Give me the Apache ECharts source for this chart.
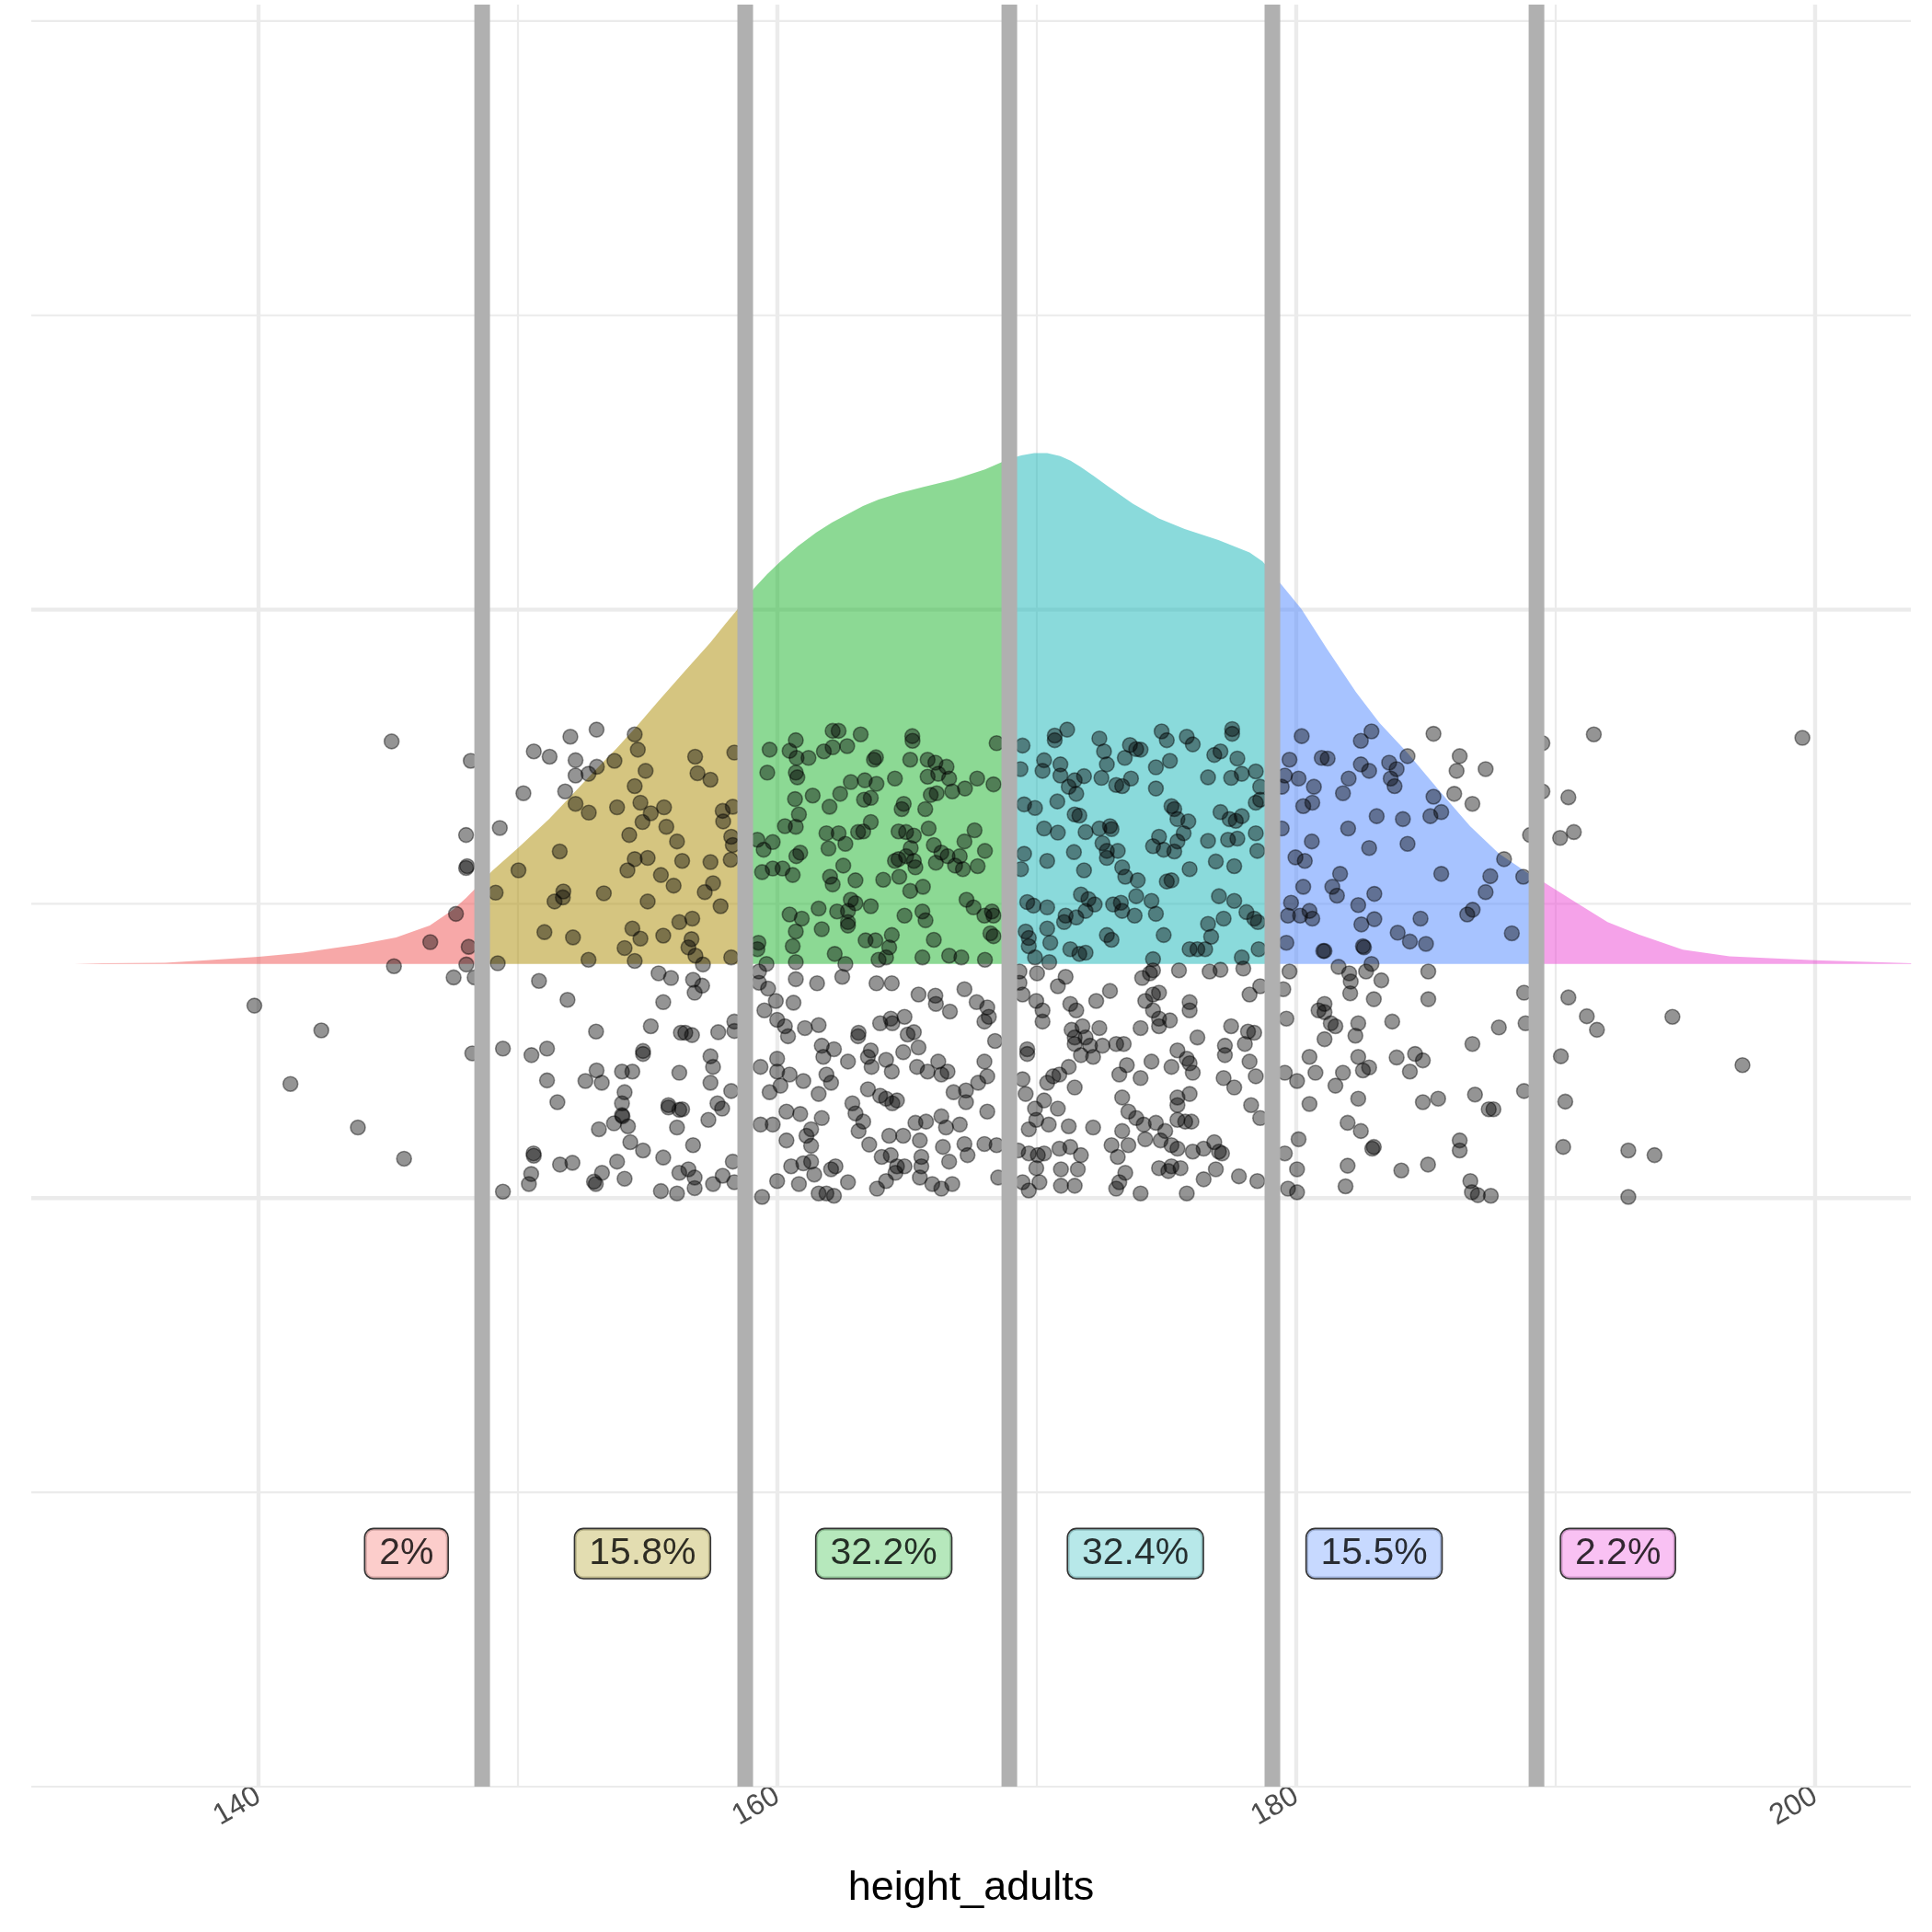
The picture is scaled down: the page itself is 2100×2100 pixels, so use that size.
<!DOCTYPE html>
<html><head><meta charset="utf-8">
<script src="https://cdn.jsdelivr.net/npm/echarts@6/dist/echarts.min.js"></script>
<style>html,body{margin:0;padding:0;background:#fff}#c{width:2100px;height:2100px}</style>
</head><body><div id="c"></div>
<script>
// ---------- data ----------
const xTickValues = [140, 160, 180, 200];
const majorGridX = [140, 160, 180, 200];
const minorGridX = [150, 170, 190];
const majorGridY = [0, 1];
const minorGridY = [-1, -0.5, 0.5, 1.5, 2];
const cutPoints = [148.62, 158.76, 168.94, 179.08, 189.26];
const densityBaseline = 0.398;
const densX = [132.9,134.0,136.4,138.0,140.0,141.7,142.9,143.9,145.3,146.6,147.5,148.0,148.62,149.0,150.0,151.2,152.1,153.0,153.8,154.6,155.4,156.4,157.4,158.0,158.76,159.1,159.6,160.1,160.8,161.5,162.1,162.7,163.3,163.9,164.7,165.6,166.8,168.0,168.94,169.4,169.9,170.4,170.9,171.3,171.7,172.2,172.7,173.7,174.7,175.7,177.0,178.2,178.7,179.08,179.4,180.2,181.2,182.3,183.2,184.3,185.5,186.7,187.8,188.9,189.26,189.6,190.8,192.0,193.2,194.9,196.7,200.0,203.7];
const densH = [0,0.001,0.002,0.006,0.012,0.019,0.027,0.033,0.045,0.065,0.092,0.112,0.140,0.158,0.197,0.246,0.288,0.330,0.366,0.405,0.446,0.496,0.545,0.578,0.618,0.638,0.662,0.683,0.710,0.733,0.750,0.764,0.778,0.789,0.800,0.810,0.823,0.840,0.858,0.864,0.868,0.868,0.863,0.855,0.844,0.829,0.813,0.782,0.757,0.739,0.720,0.699,0.684,0.665,0.646,0.603,0.534,0.462,0.410,0.358,0.295,0.234,0.188,0.155,0.146,0.137,0.104,0.071,0.050,0.024,0.013,0.006,0.001];
const regionColors = ['rgba(239,81,81,0.5)','rgba(171,139,1,0.5)','rgba(25,179,41,0.5)','rgba(21,181,183,0.5)','rgba(79,135,255,0.5)','rgba(235,69,211,0.5)'];
const labelFills = ['#FBC0BE','#DCD49E','#A4E2AB','#A5E2E3','#B9CFFF','#F8B2F0'];
const pctLabels = ['2%','15.8%','32.2%','32.4%','15.5%','2.2%'];
const labelX = [145.7,154.8,164.1,173.8,183.0,192.4];
const labelY = -0.604;
const points = [
[139.84,.327],[142.42,.285],[141.23,.194],
[145.13,.776],[148.18,.743],[152.02,.784],[153.03,.796],[150.61,.759],[151.22,.750],[152.22,.744],[152.22,.718],[150.21,.688],[151.82,.691],[152.72,.721],[153.04,.733],[153.72,.743],[154.50,.788],[154.62,.762],[154.92,.726],[154.50,.700],[152.22,.670],[152.73,.655],[153.82,.664],[154.72,.672],[155.12,.654],[155.63,.664],[154.80,.639],[155.72,.631],[154.29,.617],[156.13,.606],[149.30,.629],[148.00,.617],[148.04,.564],[148.00,.561],[151.61,.589],[150.02,.557],[154.50,.576],[155.00,.578],[154.22,.557],[155.51,.549],[156.00,.531],[149.14,.519],[151.75,.521],[151.41,.504],[151.73,.511],[153.31,.518],[155.00,.504],[147.61,.483],[146.62,.435],[148.10,.427],[151.02,.452],[152.12,.443],[154.41,.458],[154.72,.441],[155.60,.446],[156.22,.469],[154.11,.425],[154.50,.403],[152.72,.405],[149.22,.399],[145.22,.394],[148.01,.397],[147.52,.375],[148.33,.375],[150.81,.369],[155.42,.382],[155.90,.374],[151.91,.337],[155.60,.333],[153.01,.283],[155.12,.292],[156.28,.281],[148.24,.246],[149.42,.254],[150.52,.243],[151.12,.254],[154.82,.250],[154.82,.245],[151.12,.200],[152.60,.199],[153.03,.217],[153.23,.196],[154.01,.215],[154.41,.215],[156.22,.213],[151.52,.163],[154.11,.180],[154.01,.161],[154.01,.141],[154.03,.139],[153.70,.127],[154.24,.122],[153.12,.117],[155.80,.158],[155.80,.154],[156.22,.150],[156.13,.120],[143.83,.120],[145.61,.067],[150.60,.076],[150.61,.072],[150.51,.041],[150.42,.024],[149.42,.011],[151.62,.057],[152.10,.060],[153.82,.062],[153.24,.043],[152.93,.028],[153.00,.024],[154.11,.033],[154.33,.095],[154.82,.081],[155.60,.069],[155.51,.012],[156.13,.008],[156.22,.043],
[156.83,.750],[156.92,.722],[157.42,.711],[158.34,.757],[157.89,.658],[158.28,.665],[157.91,.640],[156.33,.573],[157.42,.571],[158.22,.614],[158.28,.600],[158.20,.575],[157.52,.535],[157.20,.520],[157.81,.496],[156.72,.475],[156.69,.440],[156.57,.426],[156.84,.412],[157.13,.397],[158.22,.409],[156.75,.371],[157.10,.361],[156.81,.349],[156.45,.281],[156.71,.277],[157.72,.282],[158.34,.300],[158.34,.284],[157.42,.241],[157.52,.223],[157.42,.196],[158.22,.182],[156.33,.151],[157.69,.161],[157.87,.152],[157.34,.133],[156.75,.090],[156.57,.049],[156.81,.035],[156.81,.017],[157.52,.024],[157.89,.038],[158.28,.062],[158.34,.027],
[159.70,.762],[160.71,.778],[160.47,.760],[160.74,.748],[161.20,.748],[161.79,.759],[162.13,.794],[162.36,.794],[162.13,.766],[162.69,.768],[163.21,.788],[165.20,.785],[165.21,.777],[163.72,.745],[163.80,.749],[165.12,.745],[165.79,.745],[166.09,.740],[166.52,.733],[168.45,.773],
[159.61,.723],[160.71,.723],[160.77,.715],[162.83,.707],[163.37,.710],[163.82,.704],[164.53,.713],[165.79,.716],[166.20,.721],[166.62,.713],[167.70,.713],[168.33,.703],[162.42,.687],[161.36,.684],[160.68,.678],[163.34,.677],[163.60,.680],[165.91,.685],[166.14,.688],[166.74,.691],[167.23,.696],
[162.01,.665],[160.83,.652],[164.87,.670],[164.79,.661],[165.70,.661],[160.29,.632],[160.71,.631],[163.60,.639],[161.89,.620],[162.36,.620],[163.11,.622],[163.31,.623],[164.67,.623],[164.96,.622],[165.26,.616],[165.83,.628],[167.60,.625],[159.23,.609],[159.82,.605],[159.47,.592],[162.62,.602],[161.97,.594],[166.03,.600],[167.21,.606],[165.14,.595],
[160.88,.587],[160.73,.581],[164.53,.573],[164.67,.576],[164.96,.581],[165.26,.573],[165.32,.562],[166.11,.570],[166.32,.587],[166.56,.581],[167.03,.581],[166.85,.565],[167.15,.559],[167.72,.564],[168.00,.590],[159.41,.554],[159.82,.560],[160.20,.560],[160.59,.549],[162.54,.565],[162.03,.546],[162.13,.533],[163.01,.540],[164.08,.541],[164.70,.546],[165.12,.522],[165.61,.529],
[161.59,.492],[162.30,.487],[162.83,.507],[163.01,.501],[162.72,.488],[163.60,.496],[160.47,.482],[160.94,.475],[162.72,.469],[162.72,.463],[164.90,.480],[165.59,.487],[165.71,.472],[167.29,.507],[167.56,.494],[167.98,.480],[168.27,.487],[168.33,.480],[160.71,.453],[161.71,.457],[168.21,.450],[168.33,.445],[160.59,.428],[163.40,.438],[163.78,.438],[164.41,.447],[164.31,.426],[166.03,.439],[159.27,.434],[159.23,.423],[162.21,.415],[162.62,.398],[163.90,.405],[164.19,.409],[165.59,.409],[166.62,.412],[167.09,.409],[168.00,.405],[159.58,.398],[160.71,.401],
[159.29,.385],[159.29,.366],[159.64,.356],[160.71,.372],[161.53,.365],[162.50,.376],[163.82,.365],[164.41,.365],[165.44,.346],[166.09,.344],[166.11,.330],[166.65,.317],[167.21,.355],[167.68,.333],[168.09,.324],[168.15,.308],[167.98,.300],[159.94,.335],[160.62,.332],[159.50,.319],[159.99,.303],[160.29,.292],[160.41,.275],[161.06,.289],[161.59,.294],[163.13,.281],[163.11,.275],[163.96,.297],[164.37,.305],[164.43,.297],[164.90,.308],[165.02,.278],[165.26,.282],[168.39,.267],[161.71,.259],[162.18,.253],[161.77,.240],[162.72,.232],[163.60,.251],[163.49,.240],[163.63,.223],[164.19,.235],[164.41,.215],[164.85,.248],[165.44,.256],[165.38,.223],[165.79,.215],[166.20,.232],[166.32,.210],[166.56,.215],[167.98,.232],[159.35,.223],[159.99,.237],[159.99,.215],[160.47,.210],[161.00,.199],[161.89,.210],[162.07,.196],[159.70,.180],[160.12,.191],[161.59,.177],[163.49,.185],[163.96,.174],[164.19,.169],[164.61,.166],[164.43,.161],[166.79,.180],[167.27,.183],[167.27,.163],[167.74,.196],[168.09,.207],[168.09,.147],[162.89,.161],[163.01,.144],[163.31,.130],[163.13,.114],[163.54,.091],[160.35,.147],[160.88,.143],[161.71,.136],[159.35,.125],[159.82,.125],[161.30,.117],[161.12,.106],[161.30,.089],[160.35,.098],[165.32,.128],[165.73,.130],[166.32,.139],[166.50,.120],[167.03,.125],[164.31,.106],[164.85,.106],[165.49,.098],[166.38,.087],[167.21,.092],[167.33,.073],[167.98,.092],[168.45,.090],[164.02,.070],[164.37,.073],[164.61,.054],[164.90,.054],[165.55,.070],[165.55,.054],[166.62,.062],[160.53,.054],[161.00,.059],[161.30,.062],[161.42,.040],[162.24,.054],[162.07,.049],[162.72,.027],[159.99,.029],[160.83,.024],[161.59,.008],[161.89,.008],[162.18,.004],[163.84,.016],[164.19,.029],[164.55,.043],[165.49,.035],[165.97,.024],[166.32,.016],[166.74,.024],[159.41,.002],[168.51,.035],
[170.69,.786],[171.17,.796],[170.69,.778],[169.45,.769],[172.41,.781],[172.59,.759],[173.59,.770],[173.83,.763],[174.00,.762],[173.39,.748],[174.81,.793],[175.01,.778],[175.78,.784],[176.01,.771],[177.53,.797],[177.53,.789],[176.84,.753],[177.08,.759],[177.73,.747],[170.28,.744],[169.37,.729],[170.91,.737],[170.22,.726],[172.70,.737],[174.59,.732],[175.13,.743],[170.91,.718],[171.46,.710],[171.82,.717],[171.23,.699],[171.52,.687],[172.49,.714],[173.06,.702],[173.29,.700],[173.63,.713],[174.59,.696],[176.60,.715],[177.49,.714],[177.90,.721],[178.44,.725],[178.61,.699],
[169.51,.669],[169.93,.663],[170.79,.674],[171.46,.652],[171.64,.650],[175.19,.666],[175.30,.661],[175.42,.644],[175.84,.640],[177.08,.656],[177.43,.644],[177.67,.641],[177.90,.649],[178.44,.672],[178.61,.677],[170.28,.628],[170.81,.621],[171.88,.622],[172.41,.628],[172.82,.632],[172.88,.627],[174.71,.614],[175.66,.620],[176.60,.607],[177.37,.609],[177.73,.611],[178.44,.620],[169.51,.585],[169.39,.559],[170.40,.573],[171.43,.588],[172.53,.603],[172.70,.590],[173.12,.590],[172.70,.578],[174.48,.598],[174.89,.592],[175.30,.589],[175.42,.606],[171.82,.557],[173.29,.562],[173.41,.546],[173.89,.540],[175.01,.538],[175.19,.540],[175.89,.559],[176.90,.572],[177.61,.564],[178.50,.590],
[169.63,.503],[169.87,.497],[170.40,.494],[171.70,.516],[171.99,.508],[172.23,.499],[171.88,.488],[172.94,.499],[173.24,.502],[173.29,.488],[173.77,.480],[173.83,.513],[174.42,.505],[174.59,.483],[177.02,.513],[177.61,.505],[178.08,.486],[178.38,.475],[178.52,.469],[171.11,.480],[171.52,.477],[171.05,.469],[170.40,.458],[169.57,.453],[169.69,.442],[169.69,.428],[170.52,.434],[172.70,.447],[172.88,.439],[174.89,.447],[176.60,.466],[176.72,.444],[177.20,.475],[171.29,.423],[171.64,.415],[171.88,.417],[169.93,.409],[170.48,.401],[174.48,.406],[175.89,.423],[176.19,.423],[176.49,.423],[177.90,.409],[178.55,.423],
[169.33,.385],[169.33,.366],[170.01,.382],[169.45,.346],[169.98,.335],[170.81,.360],[171.11,.376],[170.22,.319],[170.22,.300],[171.29,.330],[171.52,.319],[172.29,.335],[172.82,.352],[174.06,.374],[174.36,.382],[174.48,.387],[175.48,.387],[176.66,.385],[177.08,.388],[177.96,.390],[178.20,.346],[178.61,.360],[174.18,.335],[174.48,.346],[174.71,.349],[175.89,.333],[175.89,.319],[174.48,.319],[174.71,.305],[175.13,.302],[174.71,.292],[174.00,.289],[172.41,.289],[171.34,.286],[171.76,.292],[171.46,.262],[171.46,.273],[171.88,.273],[172.05,.259],[172.53,.259],[173.06,.262],[173.35,.262],[171.70,.243],[172.17,.240],[169.63,.253],[169.63,.245],[176.19,.273],[177.49,.292],[178.14,.283],[178.38,.281],[178.02,.262],[177.25,.259],[177.25,.243],[175.42,.251],[175.78,.237],[175.89,.229],[176.01,.213],[175.19,.223],[174.42,.232],[173.47,.226],[173.18,.210],[174.00,.204],[171.23,.223],[170.87,.210],[170.63,.207],[170.40,.196],[171.46,.188],[169.45,.202],[169.57,.177],[177.20,.204],[177.61,.188],[178.20,.232],[178.44,.207],[178.26,.158],[178.61,.136],[170.28,.166],[169.93,.152],[170.81,.152],[169.98,.133],[170.46,.125],[171.23,.122],[169.69,.117],[172.17,.120],[173.29,.171],[173.53,.147],[173.83,.136],[174.12,.125],[174.59,.128],[175.42,.171],[175.42,.158],[175.89,.177],[175.42,.133],[175.72,.130],[175.96,.130],[174.95,.114],[173.29,.114],[174.18,.100],[172.88,.090],[173.53,.090],[174.77,.098],[175.19,.090],[175.42,.084],[176.01,.079],[176.43,.084],[176.84,.095],[177.02,.079],[177.14,.076],[170.87,.084],[171.29,.087],[171.70,.073],[169.28,.081],[169.69,.076],[170.04,.073],[170.28,.076],[173.12,.070],[169.98,.051],[170.93,.049],[171.58,.049],[174.71,.051],[175.19,.054],[175.07,.046],[175.54,.051],[176.90,.049],[177.79,.037],[178.50,.029],[169.45,.027],[169.69,.013],[170.10,.027],[170.93,.021],[171.46,.021],[173.06,.016],[173.41,.043],[173.18,.027],[174.00,.008],[175.78,.008],[176.43,.032],
[180.21,.785],[179.74,.745],[179.56,.718],[180.09,.713],[180.68,.699],[179.44,.699],[180.27,.666],[180.62,.672],[180.98,.748],[179.44,.628],[180.60,.606],[179.97,.579],[180.33,.573],[180.27,.529],[179.80,.502],[180.51,.488],[180.15,.480],[179.68,.480],[180.62,.475],[179.62,.434],[181.04,.420],
[179.74,.385],[179.50,.355],[179.62,.305],[180.86,.319],[180.51,.240],[179.56,.213],[180.03,.199],[180.74,.213],[180.51,.160],[180.09,.100],[179.56,.076],[180.03,.049],[179.68,.016],[180.03,.010],
[182.90,.793],[182.49,.777],[181.21,.747],[182.49,.737],[182.81,.726],[183.58,.740],[183.87,.729],[183.64,.713],[183.79,.700],[182.02,.713],[181.80,.688],[185.29,.682],[185.59,.656],[185.17,.649],[183.10,.649],[184.11,.644],[182.00,.628],[182.81,.595],[184.29,.602],[188.01,.576],[187.48,.547],[185.59,.551],[187.30,.520],[181.69,.551],[181.39,.529],[181.57,.514],[183.01,.517],[182.39,.498],[182.51,.465],[183.01,.474],[183.91,.451],[184.38,.436],[185.00,.432],[184.79,.475],[186.59,.482],[186.80,.490],[188.31,.450],[188.75,.546],[181.09,.420],[182.57,.428],[182.61,.426],[182.90,.398],
[185.29,.789],[186.30,.751],[186.18,.726],[187.30,.729],[186.09,.687],[186.79,.670],[184.29,.751],[189.01,.617],
[181.63,.393],[182.04,.382],[182.10,.368],[182.08,.348],[182.69,.385],[183.28,.370],[182.99,.338],[185.09,.385],[185.09,.338],[181.09,.330],[181.09,.316],[181.33,.297],[181.51,.292],[182.39,.297],[182.28,.276],[181.09,.270],[183.70,.300],[182.39,.240],[183.87,.239],[184.58,.245],[184.88,.234],[182.81,.222],[182.57,.217],[181.80,.213],[184.38,.215],[181.51,.191],[182.39,.169],[184.88,.163],[185.47,.169],[186.79,.262],[187.81,.290],[186.89,.176],[187.42,.151],[187.60,.151],[188.78,.349],[188.84,.297],[188.78,.182],[181.98,.128],[182.49,.114],[182.93,.084],[182.99,.087],[186.30,.098],[186.30,.081],[181.98,.055],[184.05,.047],[185.08,.057],[181.90,.020],[186.71,.029],[186.77,.010],[187.00,.005],[187.50,.004],
[189.49,.773],[191.47,.788],[189.49,.691],[190.49,.681],[190.17,.612],[190.70,.622],[190.49,.341],[191.20,.309],[191.59,.286],[190.20,.241],[190.37,.164],[190.29,.087],[192.80,.081],[192.80,.002],
[199.51,.782],[194.50,.308],[197.20,.226],[193.81,.073]
];

// ---------- build ----------
const regions = [];
for (let i = 0; i < 6; i++) {
  const lo = i === 0 ? -Infinity : cutPoints[i - 1];
  const hi = i === 5 ? Infinity : cutPoints[i];
  const pts = [];
  densX.forEach((x, k) => { if (x >= lo - 1e-9 && x <= hi + 1e-9) pts.push([x, densH[k]]); });
  regions.push(pts);
}
const gridLines = [];
majorGridX.forEach(v => gridLines.push({ dir: 'v', v, w: 4.4 }));
minorGridX.forEach(v => gridLines.push({ dir: 'v', v, w: 2.2 }));
majorGridY.forEach(v => gridLines.push({ dir: 'h', v, w: 4.4 }));
minorGridY.forEach(v => gridLines.push({ dir: 'h', v, w: 2.2 }));

const X_MIN = 131.24, X_MAX = 203.69, Y_MIN = -1, Y_MAX = 2.028;
const FONT = '"Liberation Sans", Arial, Helvetica, sans-serif';

const chart = echarts.init(document.getElementById('c'), null, { renderer: 'canvas' });
chart.setOption({
  backgroundColor: '#ffffff',
  animation: false,
  grid: { left: 34, right: 23, top: 5, bottom: 158, containLabel: false },
  xAxis: {
    type: 'value', min: X_MIN, max: X_MAX,
    axisLine: { show: false }, axisTick: { show: false }, splitLine: { show: false },
    axisLabel: { customValues: xTickValues, rotate: 30, fontSize: 32, color: '#4D4D4D', margin: 8, fontFamily: FONT },
    name: 'height_adults', nameLocation: 'middle', nameGap: 88,
    nameTextStyle: { fontSize: 45, color: '#000000', fontFamily: FONT }
  },
  yAxis: { type: 'value', min: Y_MIN, max: Y_MAX, show: false, splitLine: { show: false } },
  series: [
    {
      type: 'custom', z: 1, silent: true,
      data: gridLines.map((g, i) => [g.dir === 'v' ? g.v : X_MIN, g.dir === 'h' ? g.v : 0, i]),
      encode: { x: 0, y: 1 },
      renderItem: function (params, api) {
        const g = gridLines[params.dataIndex];
        let a, b;
        if (g.dir === 'v') { a = api.coord([g.v, Y_MIN]); b = api.coord([g.v, Y_MAX]); }
        else { a = api.coord([X_MIN, g.v]); b = api.coord([X_MAX, g.v]); }
        return { type: 'line', shape: { x1: a[0], y1: a[1], x2: b[0], y2: b[1] }, style: { stroke: '#EBEBEB', lineWidth: g.w } };
      }
    },
    {
      type: 'custom', z: 2, silent: true,
      data: regions.map((r, i) => [r[0][0], densityBaseline, i]),
      encode: { x: 0, y: 1 },
      renderItem: function (params, api) {
        const r = regions[params.dataIndex];
        const pts = [api.coord([r[0][0], densityBaseline])];
        r.forEach(p => pts.push(api.coord([p[0], densityBaseline + p[1]])));
        pts.push(api.coord([r[r.length - 1][0], densityBaseline]));
        return { type: 'polygon', shape: { points: pts }, style: { fill: regionColors[params.dataIndex] } };
      }
    },
    {
      type: 'scatter', z: 3, silent: true,
      data: points,
      symbol: 'circle', symbolSize: 16,
      itemStyle: { color: 'rgba(0,0,0,0.42)', borderColor: 'rgba(0,0,0,0.42)', borderWidth: 1.6, opacity: 1 }
    },
    {
      type: 'custom', z: 4, silent: true,
      data: cutPoints.map(c => [c, 0]),
      encode: { x: 0, y: 1 },
      renderItem: function (params, api) {
        const c = cutPoints[params.dataIndex];
        const a = api.coord([c, Y_MIN]), b = api.coord([c, Y_MAX]);
        return { type: 'line', shape: { x1: a[0], y1: a[1], x2: b[0], y2: b[1] }, style: { stroke: '#B0B0B0', lineWidth: 17 } };
      }
    },
    {
      type: 'scatter', z: 5, silent: true, symbolSize: 0,
      data: pctLabels.map((t, i) => ({
        value: [labelX[i], labelY], name: t,
        label: { backgroundColor: labelFills[i] }
      })),
      label: {
        show: true, position: 'inside', formatter: p => p.name,
        fontSize: 41, color: '#000000', fontFamily: FONT,
        borderColor: '#000000', borderWidth: 1.6, borderRadius: 9,
        padding: [7, 15, 5, 15]
      }
    }
  ]
});
</script>
</body></html>
